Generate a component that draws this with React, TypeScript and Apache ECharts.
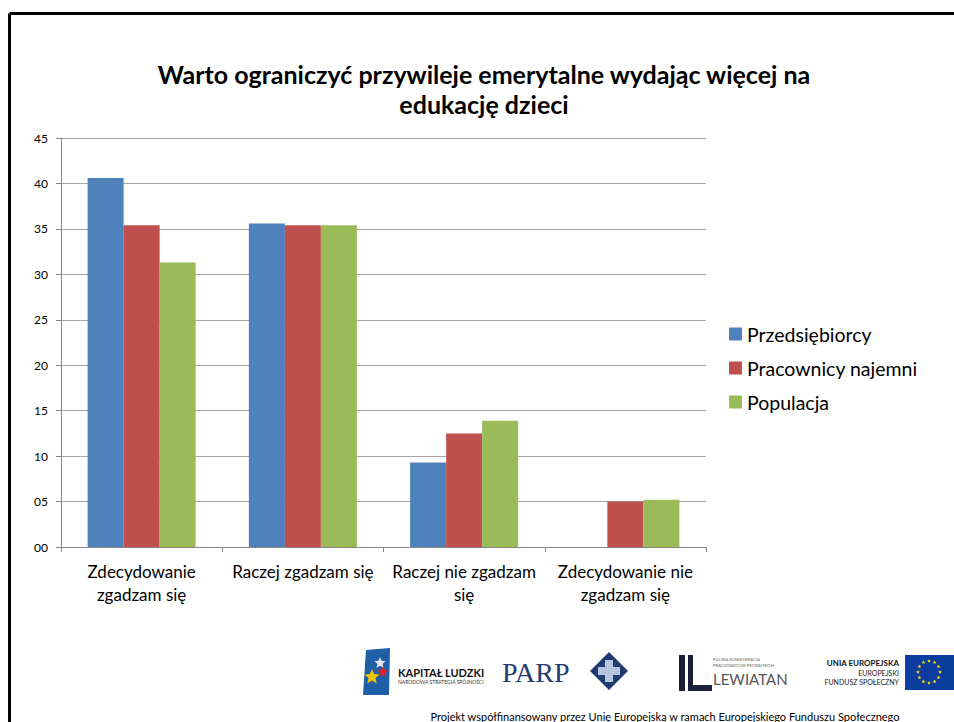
import React, { useEffect, useRef } from "react";
import * as echarts from "echarts";

const categories = [
  "Zdecydowanie\nzgadzam się",
  "Raczej zgadzam się",
  "Raczej nie zgadzam\nsię",
  "Zdecydowanie nie\nzgadzam się",
];
const seriesNames = ["Przedsiębiorcy", "Pracownicy najemni", "Populacja"];
const przedsiebiorcy = [40.6, 35.6, 9.3, 0];
const pracownicy = [35.4, 35.4, 12.5, 5.0];
const populacja = [31.3, 35.4, 13.9, 5.2];
const colors = ["#4F81BD", "#C0504D", "#9BBB59"];
const titleText = "Warto ograniczyć przywileje emerytalne wydając więcej na\nedukację dzieci";
const footerText =
  "Projekt współfinansowany przez Unię Europejską w ramach Europejskiego Funduszu Społecznego";

const FONT = "Lato, 'Open Sans', sans-serif";

function starPoints(cx: number, cy: number, r: number): number[][] {
  const pts: number[][] = [];
  for (let i = 0; i < 10; i++) {
    const a = -Math.PI / 2 + (i * Math.PI) / 5;
    const rr = i % 2 === 0 ? r : r * 0.45;
    pts.push([cx + rr * Math.cos(a), cy + rr * Math.sin(a)]);
  }
  return pts;
}

function euStars(): any[] {
  const out: any[] = [];
  for (let i = 0; i < 12; i++) {
    const a = (i * Math.PI) / 6;
    out.push({
      type: "polygon",
      shape: { points: starPoints(929 + 11 * Math.cos(a), 672 + 11 * Math.sin(a), 2) },
      style: { fill: "#FFDD00" },
    });
  }
  return out;
}

export default function App() {
  const ref = useRef<HTMLDivElement>(null);
  useEffect(() => {
    if (!ref.current) return;
    const chart = echarts.init(ref.current, null, { renderer: "svg" });
    const data = [przedsiebiorcy, pracownicy, populacja];
    chart.setOption({
      animation: false,
      backgroundColor: "#ffffff",
      textStyle: { fontFamily: FONT },
      title: {
        text: titleText,
        left: 479,
        textAlign: "center",
        top: 54,
        textStyle: {
          fontFamily: FONT,
          fontSize: 25,
          fontWeight: "bold",
          color: "#000",
          lineHeight: 30,
        },
      },
      legend: {
        orient: "vertical",
        left: 724,
        top: 319,
        itemWidth: 13,
        itemHeight: 13,
        itemGap: 14,
        icon: "rect",
        textStyle: { fontFamily: FONT, fontSize: 19.5, color: "#000" },
        data: seriesNames,
      },
      grid: { left: 61, right: 248, top: 138, bottom: 175, containLabel: false },
      xAxis: {
        type: "category",
        data: categories,
        axisLine: { lineStyle: { color: "#868686", width: 1 } },
        axisTick: { show: true, length: 5, lineStyle: { color: "#868686" } },
        axisLabel: {
          color: "#000",
          fontFamily: FONT,
          fontSize: 17,
          lineHeight: 23,
          margin: 13,
          interval: 0,
        },
      },
      yAxis: {
        type: "value",
        min: 0,
        max: 45,
        interval: 5,
        axisLine: { show: true, lineStyle: { color: "#868686", width: 1 } },
        axisTick: { show: true, length: 5, lineStyle: { color: "#868686" } },
        splitLine: { lineStyle: { color: "#A6A6A6", width: 1 } },
        axisLabel: {
          color: "#000",
          fontFamily: FONT,
          fontSize: 12,
          margin: 13,
          formatter: (v: number) => String(v).padStart(2, "0"),
        },
      },
      series: seriesNames.map((name, i) => ({
        name,
        type: "bar",
        data: data[i],
        barGap: "0%",
        barCategoryGap: "33%",
        itemStyle: { color: colors[i] },
      })),
      graphic: [
        { type: "line", shape: { x1: 9.5, y1: 13.5, x2: 960, y2: 13.5 }, style: { stroke: "#000", lineWidth: 3 } },
        { type: "line", shape: { x1: 9.5, y1: 13.5, x2: 9.5, y2: 730 }, style: { stroke: "#000", lineWidth: 3 } },
        // Kapitał Ludzki logo
        { type: "polygon", shape: { points: [[366, 650], [390, 648], [389, 695], [363, 695]] }, style: { fill: "#1F5FA8" } },
        { type: "polygon", shape: { points: starPoints(380, 663, 6) }, style: { fill: "#E8E8F0" } },
        { type: "polygon", shape: { points: starPoints(383, 672, 6) }, style: { fill: "#D8232A" } },
        { type: "polygon", shape: { points: starPoints(372, 677, 8) }, style: { fill: "#F2C500" } },
        { type: "text", style: { text: "KAPITAŁ LUDZKI", x: 398, y: 672, fill: "#111", font: "bold 11px " + FONT, textVerticalAlign: "middle" } },
        { type: "text", style: { text: "NARODOWA STRATEGIA SPÓJNOŚCI", x: 398, y: 682, fill: "#333", font: "5px " + FONT, textVerticalAlign: "middle" } },
        // PARP
        { type: "text", style: { text: "PARP", x: 502, y: 672, fill: "#1F3B70", font: "28px 'Liberation Serif', serif", textVerticalAlign: "middle" } },
        { type: "polygon", shape: { points: [[590, 671], [609, 652], [628, 671], [609, 690]] }, style: { fill: "#1F3B70" } },
        { type: "rect", shape: { x: 605, y: 660, width: 8, height: 22 }, style: { fill: "#B7C6DE" } },
        { type: "rect", shape: { x: 598, y: 667, width: 22, height: 8 }, style: { fill: "#B7C6DE" } },
        // Lewiatan
        { type: "rect", shape: { x: 679, y: 655, width: 6, height: 36 }, style: { fill: "#1B1F3B" } },
        { type: "rect", shape: { x: 688, y: 655, width: 5, height: 36 }, style: { fill: "#1B1F3B" } },
        { type: "rect", shape: { x: 688, y: 685, width: 24, height: 6 }, style: { fill: "#1B1F3B" } },
        { type: "text", style: { text: "POLSKA KONFEDERACJA", x: 713, y: 659, fill: "#666", font: "4px " + FONT, textVerticalAlign: "middle" } },
        { type: "text", style: { text: "PRACODAWCÓW PRYWATNYCH", x: 713, y: 665, fill: "#666", font: "4px " + FONT, textVerticalAlign: "middle" } },
        { type: "text", style: { text: "LEWIATAN", x: 713, y: 679, fill: "#555", font: "15px " + FONT, textVerticalAlign: "middle" } },
        // UE
        { type: "text", style: { text: "UNIA EUROPEJSKA", x: 899, y: 663, fill: "#111", font: "bold 8px " + FONT, textAlign: "right", textVerticalAlign: "middle" } },
        { type: "text", style: { text: "EUROPEJSKI", x: 899, y: 673, fill: "#222", font: "7px " + FONT, textAlign: "right", textVerticalAlign: "middle" } },
        { type: "text", style: { text: "FUNDUSZ SPOŁECZNY", x: 899, y: 682, fill: "#222", font: "7px " + FONT, textAlign: "right", textVerticalAlign: "middle" } },
        { type: "rect", shape: { x: 905, y: 655, width: 49, height: 35 }, style: { fill: "#0B3D9E" } },
        ...euStars(),
        // footer
        { type: "text", style: { text: footerText, x: 665, y: 716, fill: "#000", font: "11px " + FONT, textAlign: "center", textVerticalAlign: "middle" } },
      ],
    });
    return () => chart.dispose();
  }, []);
  return (
    <div
      ref={ref}
      style={{ position: "fixed", left: 0, top: 0, width: 954, height: 722 }}
    />
  );
}
